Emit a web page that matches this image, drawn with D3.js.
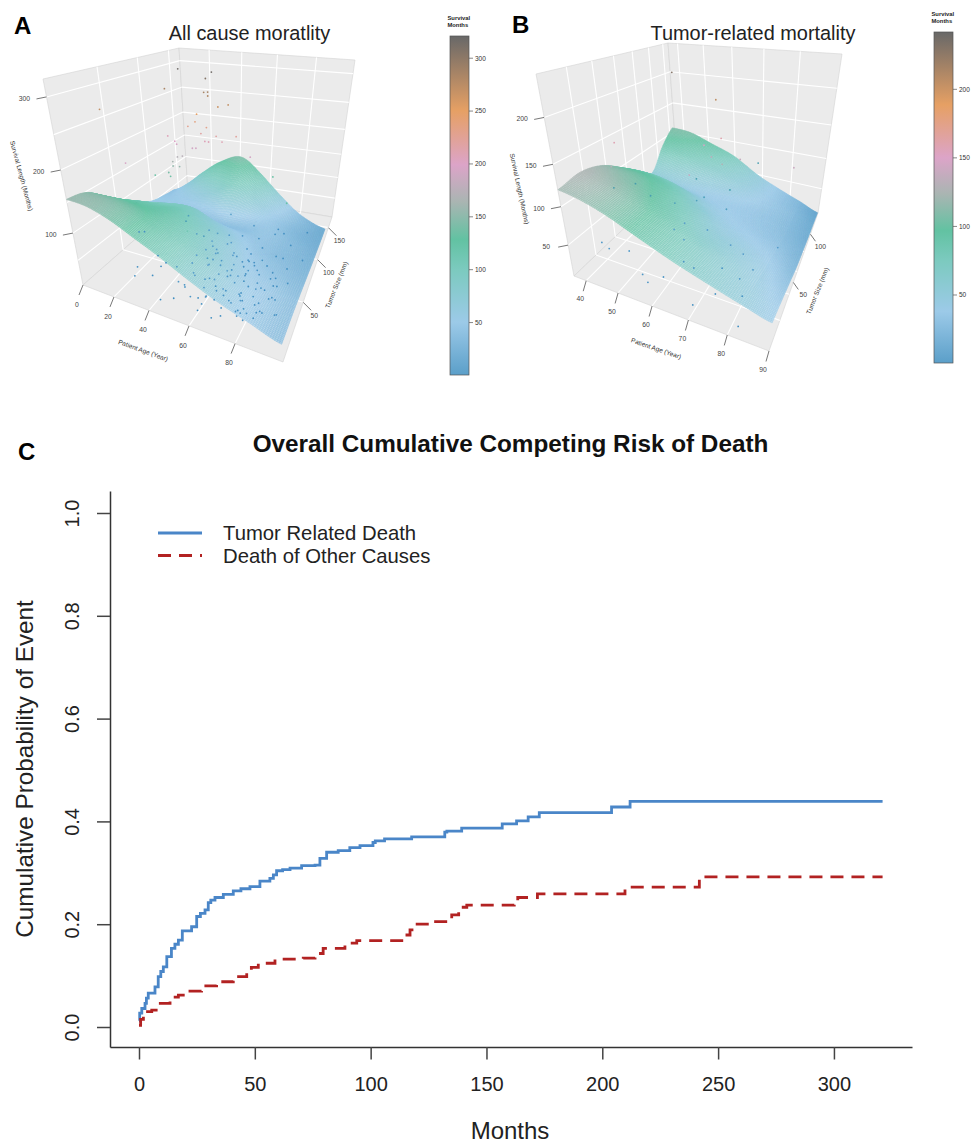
<!DOCTYPE html>
<html><head><meta charset="utf-8">
<script src="https://cdn.jsdelivr.net/npm/d3@7/dist/d3.min.js"></script>
<style>html,body{margin:0;padding:0;background:#fff}svg{display:block}text{font-family:"Liberation Sans",Arial,sans-serif}</style>
</head><body><svg id="c" width="979" height="1143"></svg>
<script>
// ---------- Panel C data ----------
const blueMonths=[0,0.3,1.2,2.6,3.2,4,6.9,8.3,9.4,10.5,12,14,15.5,17,18.7,22.7,24.9,26.5,28.5,29.9,31,32.8,36.4,40.7,44,47.9,52.2,56.5,58,59.4,62,65.2,70.2,76,78.1,81,86,91,95.4,101,102,106,117.7,132,132.9,139.3,156.8,163,168,172.8,204,212,321];
const blueRisk=[0.012,0.027,0.036,0.046,0.056,0.066,0.078,0.098,0.108,0.117,0.137,0.153,0.161,0.169,0.187,0.195,0.215,0.221,0.228,0.242,0.247,0.252,0.258,0.265,0.269,0.273,0.284,0.289,0.296,0.304,0.306,0.309,0.314,0.315,0.328,0.340,0.343,0.349,0.353,0.359,0.362,0.366,0.370,0.379,0.381,0.387,0.395,0.401,0.409,0.417,0.428,0.439,0.439];
const redMonths=[0,0.7,1.9,5.5,8.3,13.4,17,21.3,27,33.5,40.7,46.5,48.5,51.5,58.7,70.9,76,79.5,88.9,94,114.8,117,119,127,135,138,141.5,162,163.5,172,209.8,241.9,321];
const redRisk=[0.003,0.015,0.03,0.033,0.046,0.058,0.062,0.07,0.08,0.088,0.098,0.108,0.116,0.124,0.132,0.134,0.143,0.153,0.163,0.168,0.179,0.189,0.2,0.205,0.218,0.233,0.237,0.244,0.252,0.259,0.272,0.292,0.292];
const xTicksC=[0,50,100,150,200,250,300];
const yTicksC=[0,0.2,0.4,0.6,0.8,1];
const legendLabels=["Tumor Related Death","Death of Other Causes"];

// ---------- Shared palette (fraction of colour range -> colour) ----------
const paletteStops=[0,0.156,0.31,0.40,0.51,0.62,0.78,1];
const paletteColors=["#5b9fc9","#9ccae8","#7ccabf","#62c2a2","#a9b5b2","#dca4c8","#e6a064","#686868"];

// ---------- Panel A data ----------
const ageGridA=[0,12,24,36,48,60,72,84,97];
const sizeGridA=[0,20,40,60,80,100,120,140];
const monthsGridA=[
[155,152,140,122,104,82,62,46,28],
[148,146,138,124,106,84,62,46,28],
[120,124,122,118,100,76,56,42,26],
[92,102,104,104,86,68,48,34,22],
[70,76,84,84,66,52,40,28,18],
[54,52,46,40,36,38,42,28,15],
[46,50,60,78,98,78,50,25,12],
[40,65,100,128,142,112,70,32,10]];
const ptAgeA=[29,46,43,21,7,42,44,44,49,54,38,37,33,43,40,21,58,48,51,42,44,25,26,37,35,18,26,29,23,23,27,11,20,21,65,70,83,
 2,4,20,22,30,24,30,31,42,47,60,67,70,57,60,48,
 40,44,46,48,50,52,54,55,56,58,60,60,62,63,64,65,66,67,68,68,70,70,71,72,73,74,75,75,76,77,78,79,80,80,81,82,83,84,85,86,87,88,89,90,91,92,62,66,72,78,84,56,58,74,86,90,52,50,69,76,83,
 48,50,52,53,54,55,56,57,58,59,60,61,62,63,64,65,65,66,67,68,69,70,70,71,72,72,73,74,75,76,76,77,78,79,80,81,82,83,84,85,50,53,56,59,62,65,68,71,74,77,80,83,55,60,64,69,73,78,82,86];
const ptSizeA=[85,85,85,85,34,85,85,85,85,85,85,85,85,85,85,85,85,85,85,85,85,85,85,85,85,34,85,85,85,85,85,85,85,85,85,120,85,
 71,75,30,22,28,50,40,45,10,15,12,10,14,22,25,28,
 60,45,55,70,30,62,42,85,50,70,28,95,38,110,60,22,80,48,32,100,18,65,40,90,52,115,26,75,58,20,120,44,36,85,14,65,28,105,50,20,75,38,130,58,24,90,34,70,48,16,62,55,35,125,42,26,100,14,72,20,88,
 20,35,18,48,27,60,14,40,30,55,22,46,12,36,66,25,52,18,42,30,60,15,38,24,50,70,20,34,44,16,28,58,22,36,12,30,46,18,26,40,42,28,50,34,18,44,26,56,32,14,48,24,62,70,58,76,66,72,60,54];
const ptMonthsA=[316,316,306,284,270,285,286,280,265,270,250,237,228,230,219,207,222,218,210,207,207,200,195,193,192,195,172,175,162,154,155,130,140,133,192,130,123,
 15,12,12,8,8,10,8,9,5,5,5,5,5,6,8,10,
 95,105,70,60,110,52,90,35,62,40,75,24,72,30,42,52,22,40,55,18,48,25,35,15,28,12,30,14,22,32,10,24,28,12,26,12,20,10,15,22,9,14,8,12,18,8,14,9,12,18,8,40,50,10,8,12,60,70,10,12,6,
 30,45,28,55,38,40,22,42,30,28,30,35,20,36,25,25,20,22,28,20,18,18,24,16,20,14,22,16,12,18,15,14,14,12,16,10,10,12,10,8,50,40,35,26,22,20,18,12,14,15,8,10,70,45,40,20,15,10,8,8];

// ---------- Panel B data ----------
const ageGridB=[36,44,52,60,68,76,84,90];
const sizeGridB=[0,18,36,54,72,90,108,125];
const monthsGridB=[
[120,115,105,90,75,62,50,40],
[125,118,106,90,72,58,46,34],
[118,110,98,80,60,50,40,26],
[100,98,86,66,48,40,32,18],
[78,76,66,48,38,32,24,14],
[56,50,42,38,36,30,20,10],
[88,80,70,60,48,34,20,8],
[108,105,92,78,55,35,18,5]];
const ptAgeB=[55,67,44,63,68,71,86,73,65,68,70,66,42,43,46,50,56,58,38,42,48,55,57,60,62,66,72,74,80,70,82,84,58,62,68,60,56,64,72,76,80,78,60];
const ptSizeB=[62,62,31,62,62,110,62,62,62,62,62,30,30,28,40,42,48,50,22,18,20,10,8,14,30,26,36,16,22,6,4,60,70,62,66,60,44,55,50,48,40,30,40];
const ptMonthsB=[230,205,158,148,160,90,140,138,134,127,95,140,100,130,100,85,75,45,22,25,28,20,15,18,18,22,15,15,12,10,8,30,90,75,60,70,40,35,30,25,20,20,35];

// ---------- Layout ----------
const svg=d3.select("#c");
function homography(q){ // q: corners at (u,v)=(0,0),(1,0),(1,1),(0,1)
  const [[x0,y0],[x1,y1],[x2,y2],[x3,y3]]=q;
  const dx1=x1-x2,dx2=x3-x2,sx=x0-x1+x2-x3,dy1=y1-y2,dy2=y3-y2,sy=y0-y1+y2-y3;
  const den=dx1*dy2-dx2*dy1,g=(sx*dy2-dx2*sy)/den,h=(dx1*sy-sx*dy1)/den;
  const a=x1-x0+g*x1,b=x3-x0+h*x3,d=y1-y0+g*y1,e=y3-y0+h*y3;
  return (u,v)=>{const w=g*u+h*v+1;return [(a*u+b*v+x0)/w,(d*u+e*v+y0)/w];};
}
const cr=(p0,p1,p2,p3,t)=>0.5*((2*p1)+(-p0+p2)*t+(2*p0-5*p1+4*p2-p3)*t*t+(-p0+3*p1-3*p2+p3)*t*t*t);
function meshValue(g,i,j,s,t){
  const R=g.length-1,C=g[0].length-1,cl=(a,b)=>Math.max(0,Math.min(b,a));
  const row=k=>{const r=g[cl(i+k,R)];return cr(r[cl(j-1,C)],r[cl(j,C)],r[cl(j+1,C)],r[cl(j+2,C)],t);};
  return cr(row(-1),row(0),row(1),row(2),s);
}
function panel(o){
  const g=svg.append("g");
  const floor=homography(o.floor),ceil=homography(o.ceil);
  const xs=d3.scaleLinear().domain(o.ageDomain).range([0,1]);
  const ys=d3.scaleLinear().domain(o.sizeDomain).range([0,1]);
  const zs=d3.scaleLinear().domain(o.zStops).range(o.zFrac);
  const color=d3.scaleLinear().domain(paletteStops.map(f=>f*o.zMax)).range(paletteColors).clamp(true);
  const pr=(a,s,z)=>{const u=xs(a),v=ys(s),t=zs(z),f=floor(u,v),c=ceil(u,v);return [f[0]+(c[0]-f[0])*t,f[1]+(c[1]-f[1])*t];};
  const line=d3.line();
  const [a0,a1]=o.ageDomain,[s0,s1]=o.sizeDomain,z0=0,z1=o.zTop;
  const poly=(pts,fill)=>g.append("path").attr("d",line(pts)+"Z").attr("fill",fill).attr("stroke","#d4d4d4").attr("stroke-width",0.6);
  const wall="#ebebeb";
  poly([pr(a0,s0,z0),pr(a0,s1,z0),pr(a0,s1,z1),pr(a0,s0,z1)],wall);
  poly([pr(a0,s1,z0),pr(a1,s1,z0),pr(a1,s1,z1),pr(a0,s1,z1)],wall);
  poly([pr(a0,s0,z0),pr(a1,s0,z0),pr(a1,s1,z0),pr(a0,s1,z0)],wall);
  const gl=(p,q)=>g.append("line").attr("x1",p[0]).attr("y1",p[1]).attr("x2",q[0]).attr("y2",q[1]).attr("stroke","#fff").attr("stroke-width",1.1);
  o.ageGrid.forEach(a=>{gl(pr(a,s0,z0),pr(a,s1,z0));gl(pr(a,s1,z0),pr(a,s1,z1));});
  o.sizeGrid.forEach(s=>{gl(pr(a0,s,z0),pr(a1,s,z0));gl(pr(a0,s,z0),pr(a0,s,z1));});
  o.zGrid.forEach(z=>{gl(pr(a0,s0,z),pr(a0,s1,z));gl(pr(a0,s1,z),pr(a1,s1,z));});
  const tick=(p,d)=>g.append("line").attr("x1",p[0]).attr("y1",p[1]).attr("x2",p[0]+d[0]).attr("y2",p[1]+d[1]).attr("stroke","#555").attr("stroke-width",0.8);
  const lab=(p,d,t)=>g.append("text").attr("x",p[0]+d[0]).attr("y",p[1]+d[1]).attr("text-anchor","middle").attr("dominant-baseline","middle").attr("font-size",6.8).attr("fill","#444").text(t);
  o.ageTicks.forEach(a=>{const p=pr(a,s0,z0);tick(p,o.ageTick);lab(p,o.ageLab,a);});
  o.sizeTicks.forEach(s=>{const p=pr(a1,s,z0);tick(p,o.sizeTick);lab(p,o.sizeLab,s);});
  o.zTicks.forEach(z=>{const p=pr(a0,s0,z);tick(p,[-10,2]);lab(p,[-o.zLabDx,2],z);});
  // surface
  const N=o.sub,G=o.grid,R=G.length-1,C=G[0].length-1;
  const cols=C*N+1,rows=R*N+1,ageAt=d3.scaleLinear().domain(d3.range(C+1)).range(o.ageGridData),sizeAt=d3.scaleLinear().domain(d3.range(R+1)).range(o.sizeGridData);
  const P=[],Z=[];
  for(let r=0;r<rows;r++){P[r]=[];Z[r]=[];const ri=Math.min(Math.floor(r/N),R-1),st=r/N-ri;
    for(let c=0;c<cols;c++){const ci=Math.min(Math.floor(c/N),C-1),tt=c/N-ci;
      const z=meshValue(G,ri,ci,st,tt);Z[r][c]=z;P[r][c]=pr(ageAt(c/N),sizeAt(r/N),Math.max(0,z));}}
  const sg=g.append("g");
  for(let r=rows-2;r>=0;r--)for(let c=0;c<cols-1;c++){
    const q=[P[r][c],P[r][c+1],P[r+1][c+1],P[r+1][c]];
    const col=color((Z[r][c]+Z[r+1][c+1])/2);
    const area=Math.abs(d3.polygonArea(q));
    const pale=0.38*Math.max(0,Math.min(1,(area-0.5)/2.5));
    sg.append("path").attr("d",line(q)+"Z").attr("fill",d3.interpolateRgb(col,"#ffffff")(pale)).attr("stroke",col).attr("stroke-width",0.42);
  }
  // points
  o.ptAge.forEach((a,i)=>{const p=pr(a,o.ptSize[i],o.ptMonths[i]),m=o.ptMonths[i];
    g.append("circle").attr("cx",p[0]).attr("cy",p[1]).attr("r",0.9).attr("fill",m<110?d3.interpolateRgb(color(m),"#1f78b4")(0.5):color(m));});
  const t2=(p,t,rot,size)=>g.append("text").attr("transform",`translate(${p[0]},${p[1]}) rotate(${rot})`).attr("text-anchor","middle").attr("dominant-baseline","middle").attr("font-size",size).attr("fill","#333").text(t);
  t2(o.ageTitle,"Patient Age (Year)",o.ageRot,6.5);
  t2(o.sizeTitle,"Tumor Size (mm)",o.sizeRot,6.5);
  t2(o.zTitle,"Survival Length (Months)",o.zRot,6.5);
  g.append("text").attr("x",o.titleX).attr("y",39.5).attr("font-size",19.9).attr("fill","#222").attr("text-anchor","middle").text(o.title);
  g.append("text").attr("x",o.letterX).attr("y",o.letterY).attr("font-size",24).attr("font-weight",700).attr("fill","#000").text(o.letter);
  const id="grad"+o.letter,defs=svg.append("defs").append("linearGradient").attr("id",id).attr("x1",0).attr("x2",0).attr("y1",1).attr("y2",0);
  paletteStops.forEach((f,i)=>defs.append("stop").attr("offset",f).attr("stop-color",paletteColors[i]));
  const by=d3.scaleLinear().domain([0.4,o.zMax]).range([o.barB,o.barT]);
  g.append("rect").attr("x",o.barX).attr("y",o.barT).attr("width",19).attr("height",o.barB-o.barT).attr("fill",`url(#${id})`).attr("stroke","#555").attr("stroke-width",0.7);
  o.barTicks.forEach(v=>{g.append("line").attr("x1",o.barX+19).attr("x2",o.barX+23).attr("y1",by(v)).attr("y2",by(v)).attr("stroke","#555").attr("stroke-width",0.7);
    g.append("text").attr("x",o.barX+25).attr("y",by(v)+2.3).attr("font-size",6.5).attr("fill","#333").text(v);});
  ["Survival","Months"].forEach((t,i)=>g.append("text").attr("x",o.barX-2.5).attr("y",o.barT-16+i*7).attr("font-size",5.8).attr("font-weight",700).attr("fill","#222").text(t));
}
panel({letter:"A",letterX:14,letterY:34,title:"All cause moratlity",titleX:249.5,
  floor:[[83,285],[283,362],[332,217],[188,193]],ceil:[[43,79],[306,115],[355,60],[179,48]],
  ageDomain:[0,98],sizeDomain:[0,170],zStops:[0,50,100,150,200,250,300,322],zFrac:[0,0.12,0.252,0.40,0.558,0.73,0.913,1],zTop:322,zMax:321,
  ageGrid:[20,40,60,80],sizeGrid:[50,100,150],zGrid:[50,100,150,200,250,300],ageTicks:[0,20,40,60,80],sizeTicks:[50,100,150],zTicks:[100,200,300],
  ageTick:[-4,10],ageLab:[-6,20],sizeTick:[8,8],sizeLab:[11,14],zLabDx:22,grid:monthsGridA,ageGridData:ageGridA,sizeGridData:sizeGridA,sub:16,
  ptAge:ptAgeA,ptSize:ptSizeA,ptMonths:ptMonthsA,
  ageTitle:[143,351],ageRot:20,sizeTitle:[337,285],sizeRot:-68,zTitle:[21,176],zRot:75,
  barX:450,barT:36,barB:375,barTicks:[50,100,150,200,250,300]});
panel({letter:"B",letterX:512,letterY:33,title:"Tumor-related mortality",titleX:753,
  floor:[[574,276],[769,351],[818,213],[678,177]],ceil:[[536,74],[795,122],[842,54],[668,43]],
  ageDomain:[36,90],sizeDomain:[0,128],zStops:[0,50,100,150,200,243],zFrac:[0,0.153,0.343,0.553,0.785,1],zTop:243,zMax:241.8,
  ageGrid:[40,50,60,70,80],sizeGrid:[20,40,60,80,100,120],zGrid:[50,100,150,200],ageTicks:[40,50,60,70,80,90],sizeTicks:[50,100],zTicks:[50,100,150,200],
  ageTick:[-3,10.5],ageLab:[-6,19],sizeTick:[5,7],sizeLab:[10,13],zLabDx:22,grid:monthsGridB,ageGridData:ageGridB,sizeGridData:sizeGridB,sub:16,
  ptAge:ptAgeB,ptSize:ptSizeB,ptMonths:ptMonthsB,
  ageTitle:[656,349],ageRot:19,sizeTitle:[818,291],sizeRot:-68,zTitle:[519,189],zRot:78,
  barX:934,barT:32,barB:363,barTicks:[50,100,150,200]});

// ---------- Panel C ----------
const x=d3.scaleLinear().domain([-12.52,333.7]).range([110,912]);
const y=d3.scaleLinear().domain([-0.0389,1.0428]).range([1047,491]);
const gc=svg.append("g");
gc.append("text").attr("x",18).attr("y",460).attr("font-size",24).attr("font-weight",700).text("C");
gc.append("text").attr("x",510.5).attr("y",452).attr("text-anchor","middle").attr("font-size",24.3).attr("font-weight",700).attr("fill","#111").text("Overall Cumulative Competing Risk of Death");
const ax=gc.append("g").attr("transform","translate(0,1047)").call(d3.axisBottom(x).tickValues(xTicksC).tickSizeInner(12.5).tickSizeOuter(0).tickPadding(17).tickFormat(d3.format("d")));
const ay=gc.append("g").attr("transform","translate(110,0)").call(d3.axisLeft(y).tickValues(yTicksC).tickSizeInner(13).tickSizeOuter(0).tickFormat(d3.format(".1f")));
[ax,ay].forEach(a=>{a.select(".domain").attr("stroke","#333").attr("stroke-width",1.5);a.selectAll(".tick line").attr("stroke","#444").attr("stroke-width",1.5);a.selectAll("text").attr("font-size",20).attr("fill","#222").attr("font-family",'"Liberation Sans",Arial,sans-serif');});
ax.selectAll("text").attr("dy","0.71em");
ay.selectAll(".tick text").attr("transform","translate(-38,0) rotate(-90)").attr("x",0).attr("y",0).attr("dy","0.35em").attr("text-anchor","middle");
gc.append("text").attr("x",510).attr("y",1139).attr("text-anchor","middle").attr("font-size",24).attr("fill","#222").text("Months");
gc.append("text").attr("transform","translate(33,769) rotate(-90)").attr("text-anchor","middle").attr("font-size",24.3).attr("fill","#222").text("Cumulative Probability of Event");
const step=d3.line().curve(d3.curveStepAfter);
gc.append("path").attr("d",step(blueMonths.map((m,i)=>[x(m),y(blueRisk[i])]))).attr("fill","none").attr("stroke","#4a86c8").attr("stroke-width",2.8);
gc.append("path").attr("d",step(redMonths.map((m,i)=>[x(m),y(redRisk[i])]))).attr("fill","none").attr("stroke","#b22222").attr("stroke-width",2.8).attr("stroke-dasharray","13,8");
const legStroke=[["#4a86c8",null],["#b22222","13,8"]];
legendLabels.forEach((t,i)=>{const ly=533+i*22.5;
  gc.append("line").attr("x1",158).attr("x2",202).attr("y1",ly).attr("y2",ly).attr("stroke",legStroke[i][0]).attr("stroke-width",2.8).attr("stroke-dasharray",legStroke[i][1]);
  gc.append("text").attr("x",223).attr("y",ly+7).attr("font-size",20.3).attr("fill","#222").text(t);});
</script></body></html>
